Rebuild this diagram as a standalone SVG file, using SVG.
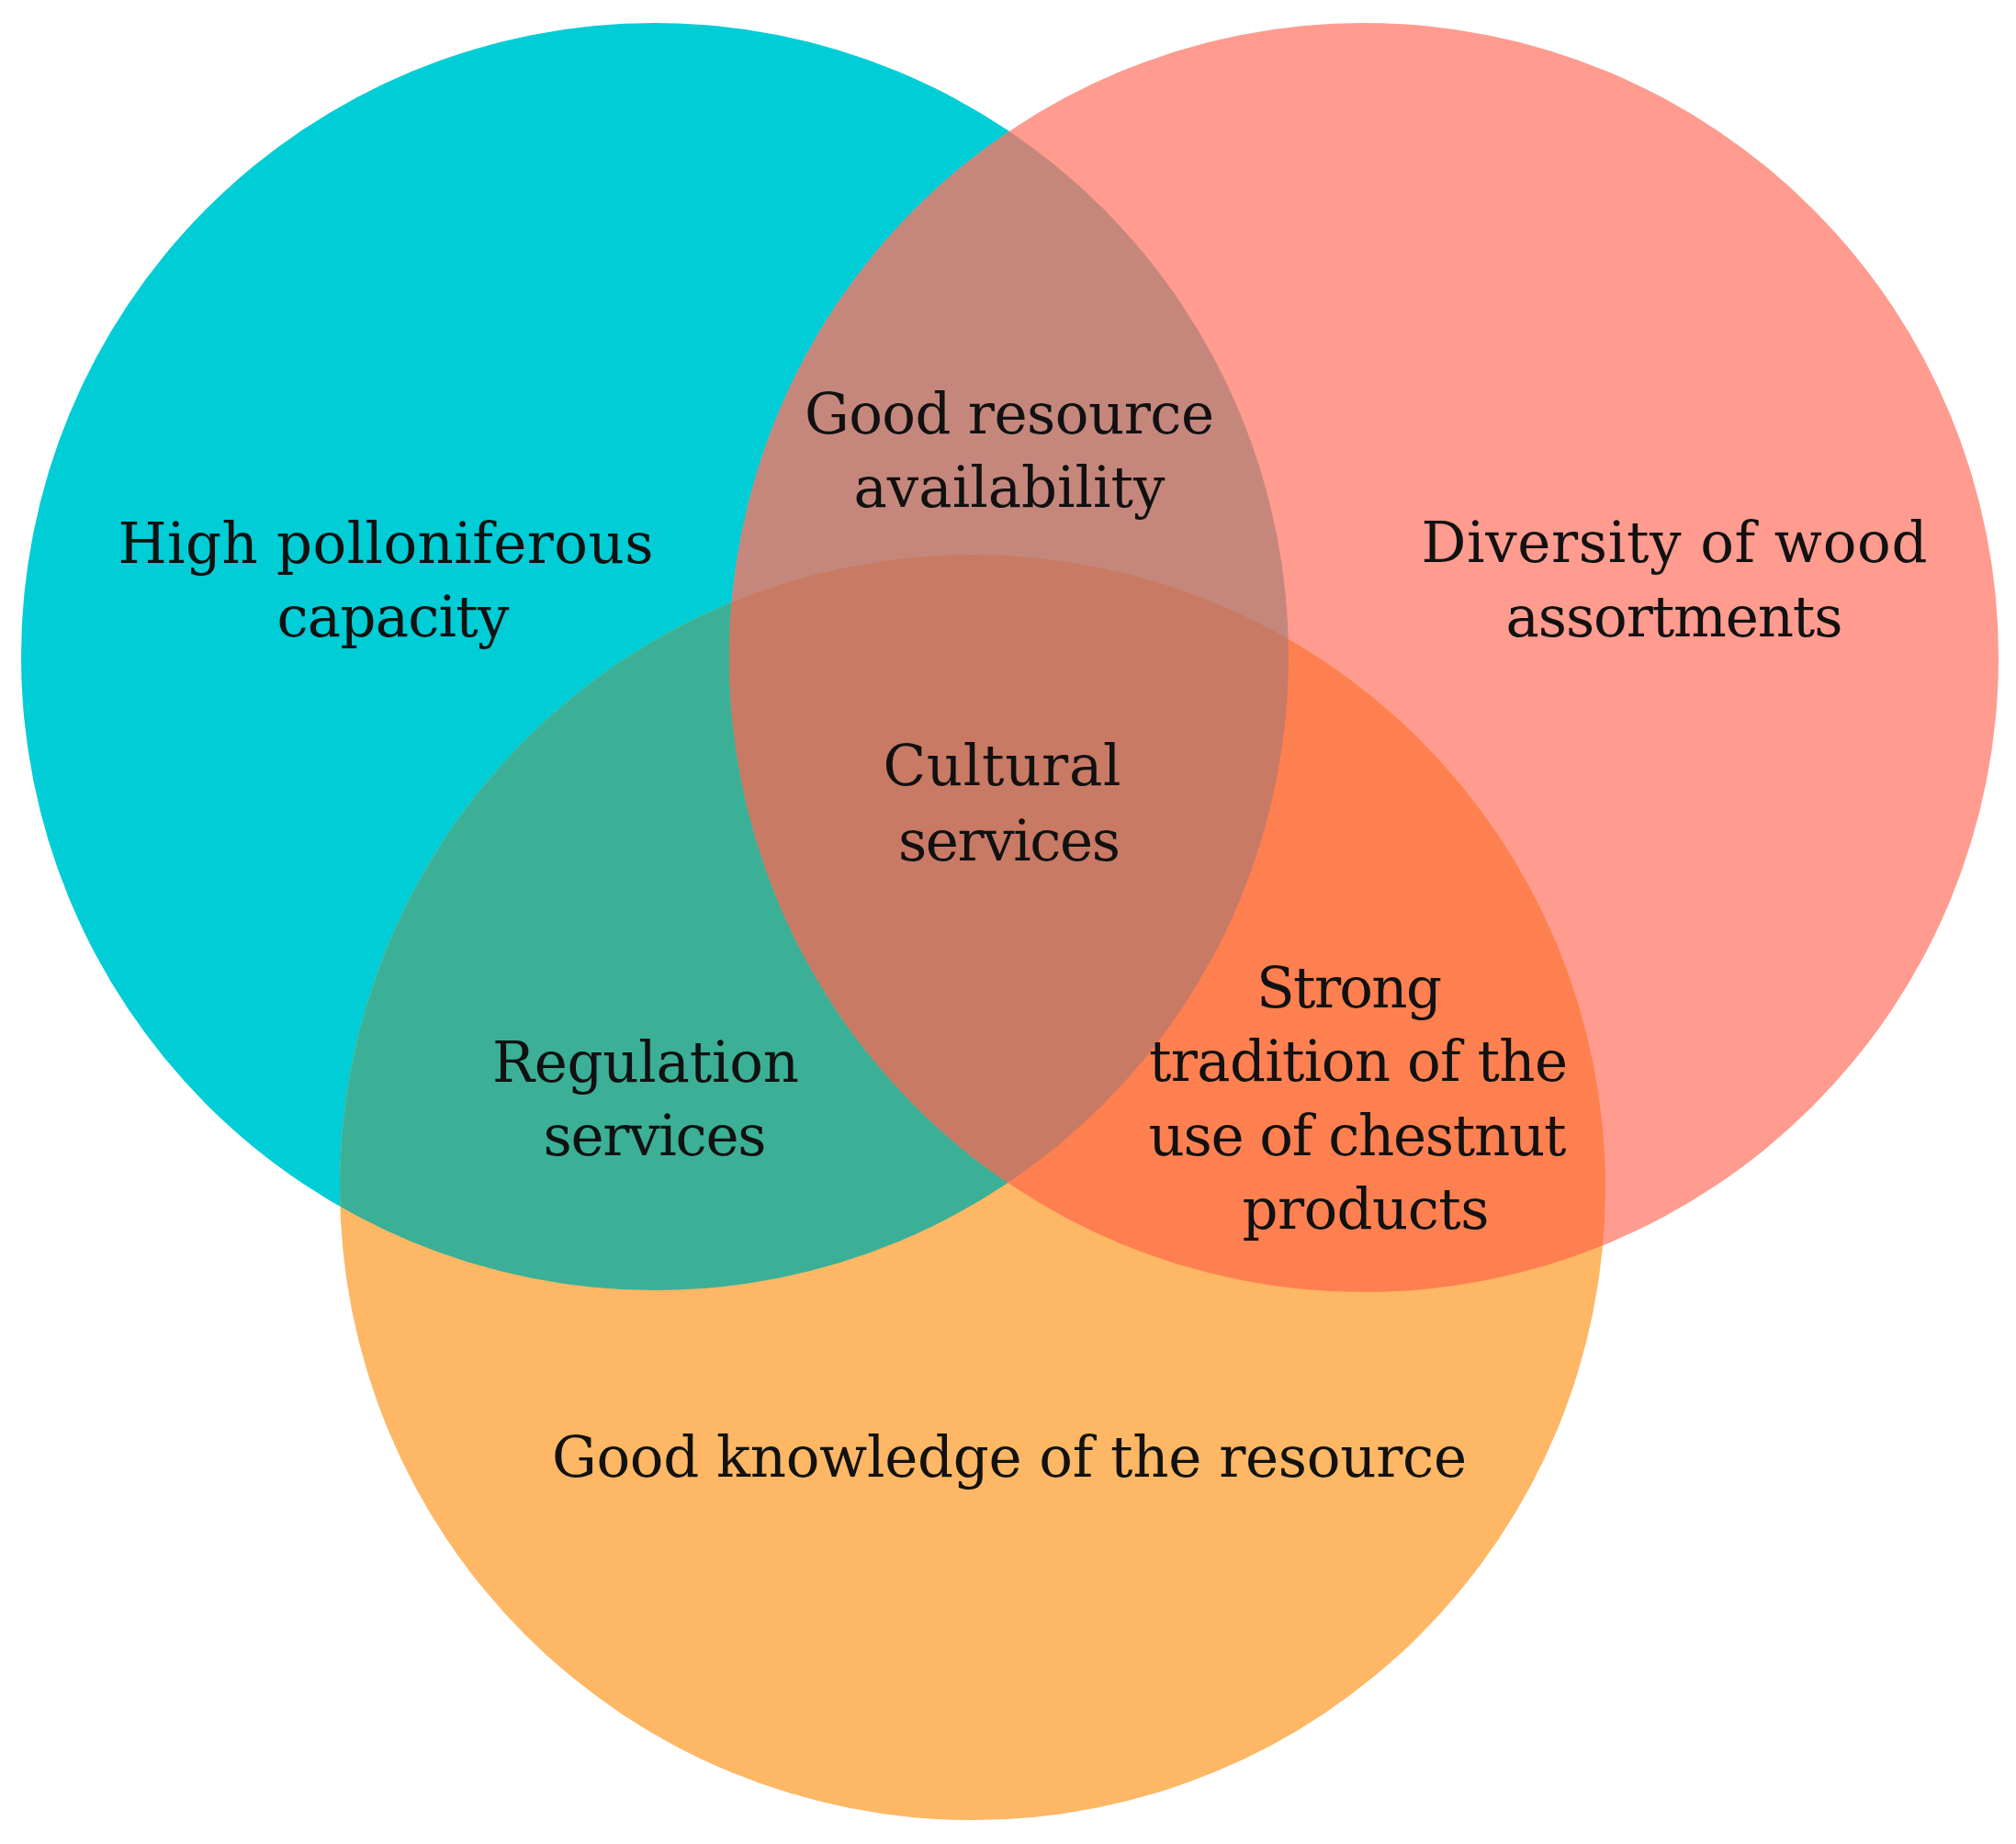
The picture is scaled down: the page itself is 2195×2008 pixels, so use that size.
<svg xmlns="http://www.w3.org/2000/svg" width="2195" height="2008" viewBox="0 0 2195 2008">
<style>
.lbl{font-family:"DejaVu Serif","Liberation Serif",serif;font-size:61px;fill:#111;text-anchor:middle}
</style>
<defs>
<clipPath id="clipA"><circle cx="713" cy="715" r="690"/></clipPath>
<clipPath id="clipB"><circle cx="1485" cy="716" r="691"/></clipPath>
</defs>
<rect width="2195" height="2008" fill="#fff"/>
<g id="circle-pollen"><circle cx="713" cy="715" r="690" fill="#00CDD5"/></g>
<g id="circle-wood"><circle cx="1485" cy="716" r="691" fill="#FF9B8F"/></g>
<g id="circle-knowledge"><circle cx="1059" cy="1293" r="689" fill="#FDB765"/></g>
<g id="overlap-ab"><circle cx="1485" cy="716" r="691" fill="#C5877C" clip-path="url(#clipA)"/></g>
<g id="overlap-ac"><circle cx="1059" cy="1293" r="689" fill="#3BB097" clip-path="url(#clipA)"/></g>
<g id="overlap-bc"><circle cx="1059" cy="1293" r="689" fill="#FE8051" clip-path="url(#clipB)"/></g>
<g id="overlap-abc" clip-path="url(#clipA)"><circle cx="1059" cy="1293" r="689" fill="#C97A64" clip-path="url(#clipB)"/></g>
<g id="label-pollen"><text class="lbl" x="420" y="613" textLength="583" lengthAdjust="spacing">High polloniferous</text><text class="lbl" x="428" y="693" textLength="253" lengthAdjust="spacing">capacity</text></g>
<g id="label-resource"><text class="lbl" x="1099" y="472" textLength="446" lengthAdjust="spacing">Good resource</text><text class="lbl" x="1099" y="552" textLength="339" lengthAdjust="spacing">availability</text></g>
<g id="label-wood"><text class="lbl" x="1823" y="612" textLength="551" lengthAdjust="spacing">Diversity of wood</text><text class="lbl" x="1823" y="693" textLength="367" lengthAdjust="spacing">assortments</text></g>
<g id="label-cultural"><text class="lbl" x="1091" y="855" textLength="259" lengthAdjust="spacing">Cultural</text><text class="lbl" x="1099" y="937" textLength="242" lengthAdjust="spacing">services</text></g>
<g id="label-regulation"><text class="lbl" x="703" y="1178" textLength="334" lengthAdjust="spacing">Regulation</text><text class="lbl" x="713" y="1258" textLength="243" lengthAdjust="spacing">services</text></g>
<g id="label-tradition"><text class="lbl" x="1469" y="1097" textLength="202" lengthAdjust="spacing">Strong</text><text class="lbl" x="1479" y="1177" textLength="456" lengthAdjust="spacing">tradition of the</text><text class="lbl" x="1478" y="1258" textLength="455" lengthAdjust="spacing">use of chestnut</text><text class="lbl" x="1487" y="1338" textLength="269" lengthAdjust="spacing">products</text></g>
<g id="label-knowledge"><text class="lbl" x="1099" y="1608" textLength="996" lengthAdjust="spacing">Good knowledge of the resource</text></g>
</svg>
